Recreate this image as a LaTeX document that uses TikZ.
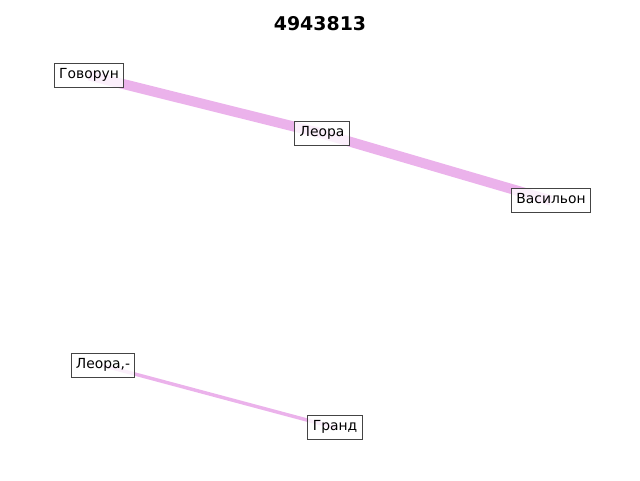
\documentclass[tikz,border=0pt]{standalone}
\usepackage{fontspec}
\setmainfont{DejaVu Sans}
\definecolor{edgec}{RGB}{235,178,235}
\definecolor{boxc}{RGB}{68,68,68}
\begin{document}
\begin{tikzpicture}[x=0.75pt,y=-0.75pt,
  lbl/.style={draw=boxc,line width=0.75pt,fill=white,fill opacity=0.8,text opacity=1,draw opacity=1,
    font=\fontsize{10.4pt}{12pt}\selectfont,inner xsep=3.6pt,inner ysep=4.2pt,
    text height=7.6pt,text depth=2.4pt},
  thick edge/.style={draw=edgec,line width=7.5pt},
  thin edge/.style={draw=edgec,line width=2.6pt}]
\useasboundingbox (0,0) rectangle (640,480);
\coordinate (g) at (89,75.5);
\coordinate (l) at (322,133.5);
\coordinate (v) at (551,200.5);
\coordinate (l2) at (103,365.5);
\coordinate (gr) at (335,427.5);
\draw[thick edge] (g) -- (l) -- (v);
\draw[thin edge] (l2) -- (gr);
\node[lbl] (ng) at (g) {Говорун};
\node[lbl] (nl) at (l) {Леора};
\node[lbl] (nv) at (v) {Васильон};
\node[lbl] (nl2) at (l2) {Леора,-};
\node[lbl] (ngr) at (gr) {Гранд};
\node[font=\fontsize{14.2pt}{16pt}\selectfont\bfseries] (title) at (320,24) {4943813};
\end{tikzpicture}
\end{document}
